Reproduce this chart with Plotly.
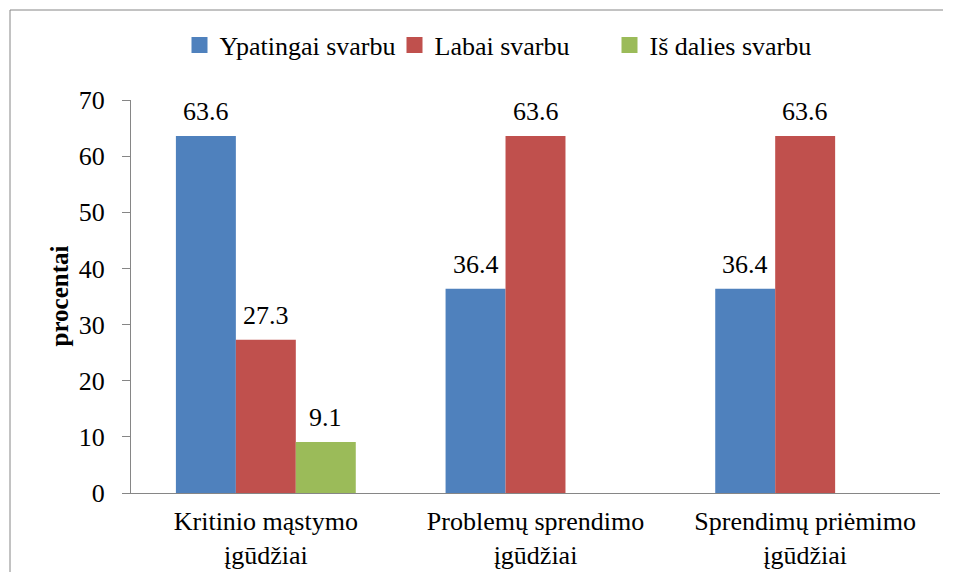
import plotly.graph_objects as go

categories = ["Kritinio mąstymo<br>įgūdžiai", "Problemų sprendimo<br>įgūdžiai", "Sprendimų priėmimo<br>įgūdžiai"]
series_names = ["Ypatingai svarbu", "Labai svarbu", "Iš dalies svarbu"]
ypatingai = [63.6, 36.4, 36.4]
labai = [27.3, 63.6, 63.6]
is_dalies = [9.1, None, None]
colors = ["#4F81BD", "#C0504D", "#9BBB59"]
y_ticks = [0, 10, 20, 30, 40, 50, 60, 70]

FONT = "Liberation Serif"
FS = 26

# page has an 8px body margin
W, H = 935, 564
L, R, T, B = 123, 3, 92, 79
pw, ph = W - L - R, H - T - B
BARGAP = 0.333
bar_px = pw / len(categories) * (1 - BARGAP) / len(series_names)

fig = go.Figure()
all_series = [ypatingai, labai, is_dalies]
for i, (name, vals, col) in enumerate(zip(series_names, all_series, colors)):
    fig.add_trace(go.Bar(
        x=categories, y=vals, name=name, showlegend=False,
        marker=dict(color=col, line=dict(width=0)),
    ))
    fig.add_trace(go.Scatter(
        x=[None], y=[None], mode="markers", name=name,
        marker=dict(symbol="square", size=16, color=col),
    ))
    for cat, v in zip(categories, vals):
        if v is None:
            continue
        fig.add_annotation(
            x=cat, y=v, xref="x", yref="y", text="%.1f" % v, showarrow=False,
            xshift=(i - 1) * bar_px, yshift=24, yanchor="middle",
            font=dict(family=FONT, size=FS, color="black"),
        )

fig.add_annotation(
    text="<b>procentai</b>", xref="paper", yref="paper",
    x=(51 - L) / pw, y=0.5, xanchor="center", yanchor="middle",
    textangle=-90, showarrow=False, font=dict(family=FONT, size=25, color="black"),
)

fig.update_layout(
    width=W, height=H,
    margin=dict(l=L, r=R, t=T, b=B, autoexpand=False),
    paper_bgcolor="white", plot_bgcolor="white",
    font=dict(family=FONT, size=FS, color="black"),
    barmode="group", bargap=BARGAP, bargroupgap=0,
    showlegend=True,
    legend=dict(orientation="h", x=(494 - L) / pw, xanchor="center",
                y=(H - B - 37) / ph, yanchor="middle",
                font=dict(family=FONT, size=FS), itemwidth=30, traceorder="normal",
                entrywidth=170, entrywidthmode="pixels",
                bgcolor="rgba(0,0,0,0)"),
    xaxis=dict(showline=True, linecolor="#868686", linewidth=1, ticks="",
               showgrid=False, tickfont=dict(family=FONT, size=FS),
               ticklabelstandoff=5),
    yaxis=dict(range=[0, 70], tickvals=y_ticks, showline=True, linecolor="#868686",
               linewidth=1, ticks="outside", ticklen=8, tickcolor="#868686",
               showgrid=False, zeroline=False, tickfont=dict(family=FONT, size=FS),
               ticklabelstandoff=12),
)

# outer chart border: only its top and left edges fall inside the window
border = dict(color="#868686", width=1)
fig.add_shape(type="line", xref="paper", yref="paper",
              x0=(2 - L) / pw, x1=(W + 30 - L) / pw,
              y0=(H - B - 2) / ph, y1=(H - B - 2) / ph, line=border, layer="below")
fig.add_shape(type="line", xref="paper", yref="paper",
              x0=(2 - L) / pw, x1=(2 - L) / pw,
              y0=(H - B - 2) / ph, y1=(H - B - (H + 30)) / ph, line=border, layer="below")

fig.write_html("out.html")
